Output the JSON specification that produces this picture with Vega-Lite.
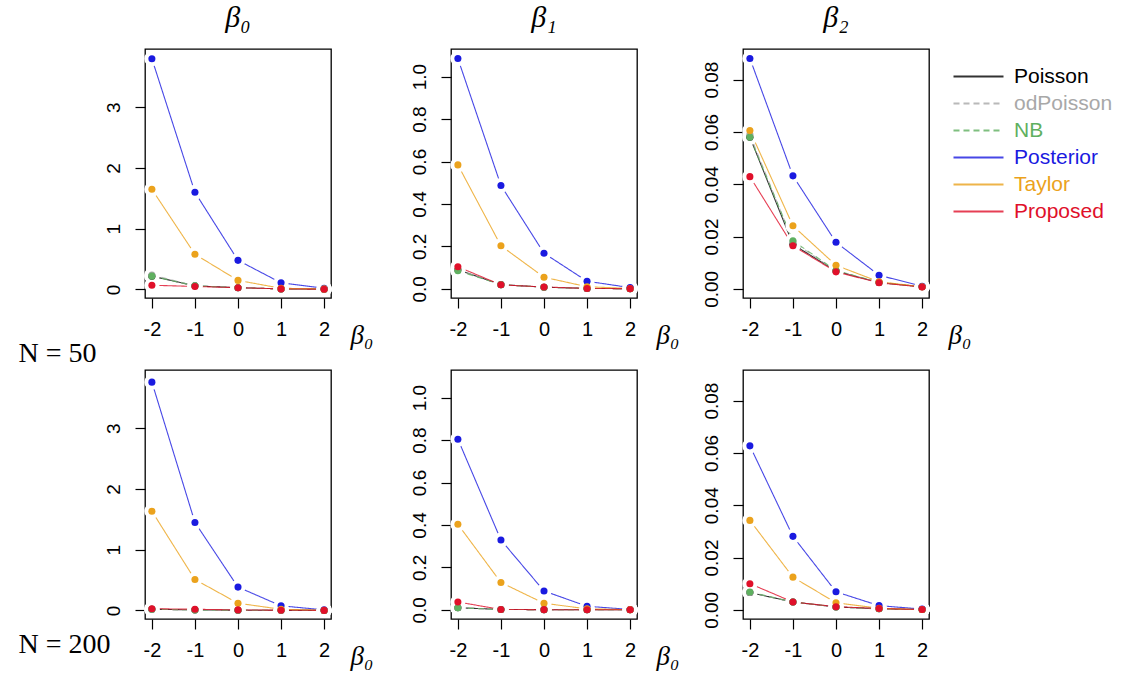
{
"$schema": "https://vega.github.io/schema/vega-lite/v6.json",
"background": "white",
"padding": {"left": 17, "top": 2, "right": 5, "bottom": 5},
"config": {
  "font": "Liberation Sans",
  "view": {"stroke": "black", "strokeWidth": 1.3},
  "axis": {"grid": false, "domain": false, "tickColor": "black", "tickSize": 10, "tickWidth": 1.2, "labelColor": "black", "labelFont": "Liberation Sans", "labelFontSize": 19},
  "axisX": {"labelFontSize": 20, "labelPadding": 11, "labelExpr": "'' + datum.value", "titleFont": "Liberation Serif", "titleFontStyle": "italic", "titleFontWeight": "normal", "titleFontSize": 27, "titleX": 205, "titleY": 37, "titleAlign": "left", "titleBaseline": "middle", "titleAngle": 0},
  "axisY": {"labelAngle": -90, "labelAlign": "center", "labelBaseline": "bottom", "labelPadding": 12, "titleFont": "Liberation Serif", "titleFontWeight": "normal", "titleFontSize": 28, "titleAngle": 0, "titleAlign": "left", "titleBaseline": "middle", "titleX": -127, "titleColor": "black"},
  "title": {"font": "Liberation Serif", "fontWeight": "normal", "fontStyle": "italic", "fontSize": 30, "color": "black", "frame": "group", "anchor": "middle", "offset": 16}
},
"datasets": {
"d": [
{"coef":"b0","n":50,"method":"Poisson","x":-2,"y":0.22},{"coef":"b0","n":50,"method":"Poisson","x":-1,"y":0.06},{"coef":"b0","n":50,"method":"Poisson","x":0,"y":0.03},{"coef":"b0","n":50,"method":"Poisson","x":1,"y":0.01},{"coef":"b0","n":50,"method":"Poisson","x":2,"y":0.005},
{"coef":"b0","n":50,"method":"odPoisson","x":-2,"y":0.24},{"coef":"b0","n":50,"method":"odPoisson","x":-1,"y":0.06},{"coef":"b0","n":50,"method":"odPoisson","x":0,"y":0.03},{"coef":"b0","n":50,"method":"odPoisson","x":1,"y":0.01},{"coef":"b0","n":50,"method":"odPoisson","x":2,"y":0.005},
{"coef":"b0","n":50,"method":"NB","x":-2,"y":0.22},{"coef":"b0","n":50,"method":"NB","x":-1,"y":0.06},{"coef":"b0","n":50,"method":"NB","x":0,"y":0.03},{"coef":"b0","n":50,"method":"NB","x":1,"y":0.01},{"coef":"b0","n":50,"method":"NB","x":2,"y":0.005},
{"coef":"b0","n":50,"method":"Posterior","x":-2,"y":3.80},{"coef":"b0","n":50,"method":"Posterior","x":-1,"y":1.60},{"coef":"b0","n":50,"method":"Posterior","x":0,"y":0.48},{"coef":"b0","n":50,"method":"Posterior","x":1,"y":0.11},{"coef":"b0","n":50,"method":"Posterior","x":2,"y":0.02},
{"coef":"b0","n":50,"method":"Taylor","x":-2,"y":1.65},{"coef":"b0","n":50,"method":"Taylor","x":-1,"y":0.58},{"coef":"b0","n":50,"method":"Taylor","x":0,"y":0.15},{"coef":"b0","n":50,"method":"Taylor","x":1,"y":0.02},{"coef":"b0","n":50,"method":"Taylor","x":2,"y":0.01},
{"coef":"b0","n":50,"method":"Proposed","x":-2,"y":0.07},{"coef":"b0","n":50,"method":"Proposed","x":-1,"y":0.05},{"coef":"b0","n":50,"method":"Proposed","x":0,"y":0.03},{"coef":"b0","n":50,"method":"Proposed","x":1,"y":0.01},{"coef":"b0","n":50,"method":"Proposed","x":2,"y":0.005},

{"coef":"b1","n":50,"method":"Poisson","x":-2,"y":0.09},{"coef":"b1","n":50,"method":"Poisson","x":-1,"y":0.02},{"coef":"b1","n":50,"method":"Poisson","x":0,"y":0.008},{"coef":"b1","n":50,"method":"Poisson","x":1,"y":0.002},{"coef":"b1","n":50,"method":"Poisson","x":2,"y":0.001},
{"coef":"b1","n":50,"method":"odPoisson","x":-2,"y":0.09},{"coef":"b1","n":50,"method":"odPoisson","x":-1,"y":0.02},{"coef":"b1","n":50,"method":"odPoisson","x":0,"y":0.008},{"coef":"b1","n":50,"method":"odPoisson","x":1,"y":0.002},{"coef":"b1","n":50,"method":"odPoisson","x":2,"y":0.001},
{"coef":"b1","n":50,"method":"NB","x":-2,"y":0.085},{"coef":"b1","n":50,"method":"NB","x":-1,"y":0.02},{"coef":"b1","n":50,"method":"NB","x":0,"y":0.008},{"coef":"b1","n":50,"method":"NB","x":1,"y":0.002},{"coef":"b1","n":50,"method":"NB","x":2,"y":0.001},
{"coef":"b1","n":50,"method":"Posterior","x":-2,"y":1.085},{"coef":"b1","n":50,"method":"Posterior","x":-1,"y":0.487},{"coef":"b1","n":50,"method":"Posterior","x":0,"y":0.168},{"coef":"b1","n":50,"method":"Posterior","x":1,"y":0.036},{"coef":"b1","n":50,"method":"Posterior","x":2,"y":0.006},
{"coef":"b1","n":50,"method":"Taylor","x":-2,"y":0.584},{"coef":"b1","n":50,"method":"Taylor","x":-1,"y":0.203},{"coef":"b1","n":50,"method":"Taylor","x":0,"y":0.055},{"coef":"b1","n":50,"method":"Taylor","x":1,"y":0.01},{"coef":"b1","n":50,"method":"Taylor","x":2,"y":0.002},
{"coef":"b1","n":50,"method":"Proposed","x":-2,"y":0.104},{"coef":"b1","n":50,"method":"Proposed","x":-1,"y":0.019},{"coef":"b1","n":50,"method":"Proposed","x":0,"y":0.009},{"coef":"b1","n":50,"method":"Proposed","x":1,"y":0.002},{"coef":"b1","n":50,"method":"Proposed","x":2,"y":0.001},

{"coef":"b2","n":50,"method":"Poisson","x":-2,"y":0.058},{"coef":"b2","n":50,"method":"Poisson","x":-1,"y":0.017},{"coef":"b2","n":50,"method":"Poisson","x":0,"y":0.0068},{"coef":"b2","n":50,"method":"Poisson","x":1,"y":0.0024},{"coef":"b2","n":50,"method":"Poisson","x":2,"y":0.0008},
{"coef":"b2","n":50,"method":"odPoisson","x":-2,"y":0.059},{"coef":"b2","n":50,"method":"odPoisson","x":-1,"y":0.018},{"coef":"b2","n":50,"method":"odPoisson","x":0,"y":0.0068},{"coef":"b2","n":50,"method":"odPoisson","x":1,"y":0.0024},{"coef":"b2","n":50,"method":"odPoisson","x":2,"y":0.0008},
{"coef":"b2","n":50,"method":"NB","x":-2,"y":0.058},{"coef":"b2","n":50,"method":"NB","x":-1,"y":0.0184},{"coef":"b2","n":50,"method":"NB","x":0,"y":0.007},{"coef":"b2","n":50,"method":"NB","x":1,"y":0.0025},{"coef":"b2","n":50,"method":"NB","x":2,"y":0.0008},
{"coef":"b2","n":50,"method":"Posterior","x":-2,"y":0.0881},{"coef":"b2","n":50,"method":"Posterior","x":-1,"y":0.0432},{"coef":"b2","n":50,"method":"Posterior","x":0,"y":0.0178},{"coef":"b2","n":50,"method":"Posterior","x":1,"y":0.0052},{"coef":"b2","n":50,"method":"Posterior","x":2,"y":0.0010},
{"coef":"b2","n":50,"method":"Taylor","x":-2,"y":0.0605},{"coef":"b2","n":50,"method":"Taylor","x":-1,"y":0.0241},{"coef":"b2","n":50,"method":"Taylor","x":0,"y":0.0090},{"coef":"b2","n":50,"method":"Taylor","x":1,"y":0.0027},{"coef":"b2","n":50,"method":"Taylor","x":2,"y":0.0008},
{"coef":"b2","n":50,"method":"Proposed","x":-2,"y":0.0429},{"coef":"b2","n":50,"method":"Proposed","x":-1,"y":0.0165},{"coef":"b2","n":50,"method":"Proposed","x":0,"y":0.0065},{"coef":"b2","n":50,"method":"Proposed","x":1,"y":0.0023},{"coef":"b2","n":50,"method":"Proposed","x":2,"y":0.0007},

{"coef":"b0","n":200,"method":"Poisson","x":-2,"y":0.02},{"coef":"b0","n":200,"method":"Poisson","x":-1,"y":0.01},{"coef":"b0","n":200,"method":"Poisson","x":0,"y":0.005},{"coef":"b0","n":200,"method":"Poisson","x":1,"y":0.003},{"coef":"b0","n":200,"method":"Poisson","x":2,"y":0.001},
{"coef":"b0","n":200,"method":"odPoisson","x":-2,"y":0.02},{"coef":"b0","n":200,"method":"odPoisson","x":-1,"y":0.01},{"coef":"b0","n":200,"method":"odPoisson","x":0,"y":0.005},{"coef":"b0","n":200,"method":"odPoisson","x":1,"y":0.003},{"coef":"b0","n":200,"method":"odPoisson","x":2,"y":0.001},
{"coef":"b0","n":200,"method":"NB","x":-2,"y":0.02},{"coef":"b0","n":200,"method":"NB","x":-1,"y":0.01},{"coef":"b0","n":200,"method":"NB","x":0,"y":0.005},{"coef":"b0","n":200,"method":"NB","x":1,"y":0.003},{"coef":"b0","n":200,"method":"NB","x":2,"y":0.001},
{"coef":"b0","n":200,"method":"Posterior","x":-2,"y":3.76},{"coef":"b0","n":200,"method":"Posterior","x":-1,"y":1.45},{"coef":"b0","n":200,"method":"Posterior","x":0,"y":0.385},{"coef":"b0","n":200,"method":"Posterior","x":1,"y":0.077},{"coef":"b0","n":200,"method":"Posterior","x":2,"y":0.01},
{"coef":"b0","n":200,"method":"Taylor","x":-2,"y":1.635},{"coef":"b0","n":200,"method":"Taylor","x":-1,"y":0.51},{"coef":"b0","n":200,"method":"Taylor","x":0,"y":0.12},{"coef":"b0","n":200,"method":"Taylor","x":1,"y":0.02},{"coef":"b0","n":200,"method":"Taylor","x":2,"y":0.005},
{"coef":"b0","n":200,"method":"Proposed","x":-2,"y":0.03},{"coef":"b0","n":200,"method":"Proposed","x":-1,"y":0.02},{"coef":"b0","n":200,"method":"Proposed","x":0,"y":0.01},{"coef":"b0","n":200,"method":"Proposed","x":1,"y":0.005},{"coef":"b0","n":200,"method":"Proposed","x":2,"y":0.002},

{"coef":"b1","n":200,"method":"Poisson","x":-2,"y":0.01},{"coef":"b1","n":200,"method":"Poisson","x":-1,"y":0.002},{"coef":"b1","n":200,"method":"Poisson","x":0,"y":0.001},{"coef":"b1","n":200,"method":"Poisson","x":1,"y":0.0005},{"coef":"b1","n":200,"method":"Poisson","x":2,"y":0.0002},
{"coef":"b1","n":200,"method":"odPoisson","x":-2,"y":0.01},{"coef":"b1","n":200,"method":"odPoisson","x":-1,"y":0.002},{"coef":"b1","n":200,"method":"odPoisson","x":0,"y":0.001},{"coef":"b1","n":200,"method":"odPoisson","x":1,"y":0.0005},{"coef":"b1","n":200,"method":"odPoisson","x":2,"y":0.0002},
{"coef":"b1","n":200,"method":"NB","x":-2,"y":0.01},{"coef":"b1","n":200,"method":"NB","x":-1,"y":0.002},{"coef":"b1","n":200,"method":"NB","x":0,"y":0.001},{"coef":"b1","n":200,"method":"NB","x":1,"y":0.0005},{"coef":"b1","n":200,"method":"NB","x":2,"y":0.0002},
{"coef":"b1","n":200,"method":"Posterior","x":-2,"y":0.804},{"coef":"b1","n":200,"method":"Posterior","x":-1,"y":0.329},{"coef":"b1","n":200,"method":"Posterior","x":0,"y":0.089},{"coef":"b1","n":200,"method":"Posterior","x":1,"y":0.017},{"coef":"b1","n":200,"method":"Posterior","x":2,"y":0.002},
{"coef":"b1","n":200,"method":"Taylor","x":-2,"y":0.403},{"coef":"b1","n":200,"method":"Taylor","x":-1,"y":0.129},{"coef":"b1","n":200,"method":"Taylor","x":0,"y":0.031},{"coef":"b1","n":200,"method":"Taylor","x":1,"y":0.005},{"coef":"b1","n":200,"method":"Taylor","x":2,"y":0.001},
{"coef":"b1","n":200,"method":"Proposed","x":-2,"y":0.037},{"coef":"b1","n":200,"method":"Proposed","x":-1,"y":0.002},{"coef":"b1","n":200,"method":"Proposed","x":0,"y":0.001},{"coef":"b1","n":200,"method":"Proposed","x":1,"y":0.0005},{"coef":"b1","n":200,"method":"Proposed","x":2,"y":0.0002},

{"coef":"b2","n":200,"method":"Poisson","x":-2,"y":0.0066},{"coef":"b2","n":200,"method":"Poisson","x":-1,"y":0.003},{"coef":"b2","n":200,"method":"Poisson","x":0,"y":0.0011},{"coef":"b2","n":200,"method":"Poisson","x":1,"y":0.0004},{"coef":"b2","n":200,"method":"Poisson","x":2,"y":0.0001},
{"coef":"b2","n":200,"method":"odPoisson","x":-2,"y":0.0066},{"coef":"b2","n":200,"method":"odPoisson","x":-1,"y":0.003},{"coef":"b2","n":200,"method":"odPoisson","x":0,"y":0.0011},{"coef":"b2","n":200,"method":"odPoisson","x":1,"y":0.0004},{"coef":"b2","n":200,"method":"odPoisson","x":2,"y":0.0001},
{"coef":"b2","n":200,"method":"NB","x":-2,"y":0.0068},{"coef":"b2","n":200,"method":"NB","x":-1,"y":0.003},{"coef":"b2","n":200,"method":"NB","x":0,"y":0.0011},{"coef":"b2","n":200,"method":"NB","x":1,"y":0.0004},{"coef":"b2","n":200,"method":"NB","x":2,"y":0.0001},
{"coef":"b2","n":200,"method":"Posterior","x":-2,"y":0.0627},{"coef":"b2","n":200,"method":"Posterior","x":-1,"y":0.0281},{"coef":"b2","n":200,"method":"Posterior","x":0,"y":0.0069},{"coef":"b2","n":200,"method":"Posterior","x":1,"y":0.0016},{"coef":"b2","n":200,"method":"Posterior","x":2,"y":0.0003},
{"coef":"b2","n":200,"method":"Taylor","x":-2,"y":0.0342},{"coef":"b2","n":200,"method":"Taylor","x":-1,"y":0.0125},{"coef":"b2","n":200,"method":"Taylor","x":0,"y":0.0027},{"coef":"b2","n":200,"method":"Taylor","x":1,"y":0.0006},{"coef":"b2","n":200,"method":"Taylor","x":2,"y":0.0001},
{"coef":"b2","n":200,"method":"Proposed","x":-2,"y":0.010},{"coef":"b2","n":200,"method":"Proposed","x":-1,"y":0.003},{"coef":"b2","n":200,"method":"Proposed","x":0,"y":0.0012},{"coef":"b2","n":200,"method":"Proposed","x":1,"y":0.0005},{"coef":"b2","n":200,"method":"Proposed","x":2,"y":0.0001}
]
},
"data": {"name": "d"},
"bounds": "flush",
"spacing": 306,
"hconcat": [
 {
  "bounds": "flush",
  "spacing": 72,
  "vconcat": [
   {
    "width": 186, "height": 249,
    "title": {"text": "β₀"},
    "transform": [{"filter": "datum.coef == 'b0' && datum.n == 50"}],
    "encoding": {
      "x": {"field": "x", "type": "quantitative", "scale": {"domain": [-2.16, 2.16], "nice": false, "zero": false}, "axis": {"values": [-2,-1,0,1,2], "title": "β₀"}},
      "y": {"field": "y", "type": "quantitative", "scale": {"domain": [-0.14, 3.96], "nice": false, "zero": false}, "axis": {"values": [0,1,2,3], "format": "d", "title": "N = 50", "titleY": 304}},
      "color": {"field": "method", "type": "nominal", "scale": {"domain": ["Poisson","odPoisson","NB","Posterior","Taylor","Proposed"], "range": ["#000000","#a8a8a8","#5fb060","#1a1ae0","#eba21c","#e0102a"]},
        "legend": {"orient": "none", "legendX": 820, "legendY": 14, "title": null, "symbolType": "M-2,0H2", "symbolSize": 625, "symbolStrokeWidth": 2, "labelFontSize": 21, "labelFont": "Liberation Sans", "labelOffset": 22, "rowPadding": 3,
          "labelColor": {"expr": "scale('color', datum.value)"}}},
      "strokeDash": {"field": "method", "type": "nominal", "scale": {"domain": ["Poisson","odPoisson","NB","Posterior","Taylor","Proposed"], "range": [[1,0],[6,4],[6,4],[1,0],[1,0],[1,0]]}, "legend": {"orient": "none", "legendX": 820, "legendY": 14, "title": null, "symbolType": "M-2,0H2", "symbolSize": 625, "symbolStrokeWidth": 2, "labelFontSize": 21, "labelFont": "Liberation Sans", "labelOffset": 22, "rowPadding": 3,
          "labelColor": {"expr": "scale('color', datum.value)"}}}
    },
    "layer": [
      {"mark": {"type": "line", "strokeWidth": 1.1, "opacity": 0.8}},
      {"mark": {"type": "point", "filled": true, "size": 230, "opacity": 1}, "encoding": {"color": {"value": "white"}, "strokeDash": {"value": [1,0]}}},
      {"mark": {"type": "point", "filled": true, "size": 50, "opacity": 1}, "encoding": {"strokeDash": {"value": [1,0]}}}
    ]
   },
   {
    "width": 186, "height": 249,
    "transform": [{"filter": "datum.coef == 'b0' && datum.n == 200"}],
    "encoding": {
      "x": {"field": "x", "type": "quantitative", "scale": {"domain": [-2.16, 2.16], "nice": false, "zero": false}, "axis": {"values": [-2,-1,0,1,2], "title": "β₀"}},
      "y": {"field": "y", "type": "quantitative", "scale": {"domain": [-0.14, 3.96], "nice": false, "zero": false}, "axis": {"values": [0,1,2,3], "format": "d", "title": "N = 200", "titleY": 274}},
      "color": {"field": "method", "type": "nominal"},
      "strokeDash": {"field": "method", "type": "nominal"}
    },
    "layer": [
      {"mark": {"type": "line", "strokeWidth": 1.1, "opacity": 0.8}},
      {"mark": {"type": "point", "filled": true, "size": 230, "opacity": 1}, "encoding": {"color": {"value": "white"}, "strokeDash": {"value": [1,0]}}},
      {"mark": {"type": "point", "filled": true, "size": 50, "opacity": 1}, "encoding": {"strokeDash": {"value": [1,0]}}}
    ]
   }
  ]
 },
 {
  "bounds": "flush",
  "spacing": 292,
  "hconcat": [
   {
    "bounds": "flush",
    "spacing": 72,
    "vconcat": [
     {
      "width": 186, "height": 249,
      "title": {"text": "β₁"},
      "transform": [{"filter": "datum.coef == 'b1' && datum.n == 50"}],
      "encoding": {
        "x": {"field": "x", "type": "quantitative", "scale": {"domain": [-2.16, 2.16], "nice": false, "zero": false}, "axis": {"values": [-2,-1,0,1,2], "title": "β₀"}},
        "y": {"field": "y", "type": "quantitative", "scale": {"domain": [-0.043, 1.13], "nice": false, "zero": false}, "axis": {"values": [0,0.2,0.4,0.6,0.8,1.0], "format": ".1f", "title": null}},
        "color": {"field": "method", "type": "nominal"},
        "strokeDash": {"field": "method", "type": "nominal"}
      },
      "layer": [
        {"mark": {"type": "line", "strokeWidth": 1.1, "opacity": 0.8}},
        {"mark": {"type": "point", "filled": true, "size": 230, "opacity": 1}, "encoding": {"color": {"value": "white"}, "strokeDash": {"value": [1,0]}}},
        {"mark": {"type": "point", "filled": true, "size": 50, "opacity": 1}, "encoding": {"strokeDash": {"value": [1,0]}}}
      ]
     },
     {
      "width": 186, "height": 249,
      "transform": [{"filter": "datum.coef == 'b1' && datum.n == 200"}],
      "encoding": {
        "x": {"field": "x", "type": "quantitative", "scale": {"domain": [-2.16, 2.16], "nice": false, "zero": false}, "axis": {"values": [-2,-1,0,1,2], "title": "β₀"}},
        "y": {"field": "y", "type": "quantitative", "scale": {"domain": [-0.043, 1.13], "nice": false, "zero": false}, "axis": {"values": [0,0.2,0.4,0.6,0.8,1.0], "format": ".1f", "title": null}},
        "color": {"field": "method", "type": "nominal"},
        "strokeDash": {"field": "method", "type": "nominal"}
      },
      "layer": [
        {"mark": {"type": "line", "strokeWidth": 1.1, "opacity": 0.8}},
        {"mark": {"type": "point", "filled": true, "size": 230, "opacity": 1}, "encoding": {"color": {"value": "white"}, "strokeDash": {"value": [1,0]}}},
        {"mark": {"type": "point", "filled": true, "size": 50, "opacity": 1}, "encoding": {"strokeDash": {"value": [1,0]}}}
      ]
     }
    ]
   },
   {
    "bounds": "flush",
    "spacing": 72,
    "vconcat": [
     {
      "width": 186, "height": 249,
      "title": {"text": "β₂"},
      "transform": [{"filter": "datum.coef == 'b2' && datum.n == 50"}],
      "encoding": {
        "x": {"field": "x", "type": "quantitative", "scale": {"domain": [-2.16, 2.16], "nice": false, "zero": false}, "axis": {"values": [-2,-1,0,1,2], "title": "β₀"}},
        "y": {"field": "y", "type": "quantitative", "scale": {"domain": [-0.0035, 0.0917], "nice": false, "zero": false}, "axis": {"values": [0,0.02,0.04,0.06,0.08], "format": ".2f", "title": null}},
        "color": {"field": "method", "type": "nominal"},
        "strokeDash": {"field": "method", "type": "nominal"}
      },
      "layer": [
        {"mark": {"type": "line", "strokeWidth": 1.1, "opacity": 0.8}},
        {"mark": {"type": "point", "filled": true, "size": 230, "opacity": 1}, "encoding": {"color": {"value": "white"}, "strokeDash": {"value": [1,0]}}},
        {"mark": {"type": "point", "filled": true, "size": 50, "opacity": 1}, "encoding": {"strokeDash": {"value": [1,0]}}}
      ]
     },
     {
      "width": 186, "height": 249,
      "transform": [{"filter": "datum.coef == 'b2' && datum.n == 200"}],
      "encoding": {
        "x": {"field": "x", "type": "quantitative", "scale": {"domain": [-2.16, 2.16], "nice": false, "zero": false}, "axis": {"values": [-2,-1,0,1,2], "title": null}},
        "y": {"field": "y", "type": "quantitative", "scale": {"domain": [-0.0035, 0.0917], "nice": false, "zero": false}, "axis": {"values": [0,0.02,0.04,0.06,0.08], "format": ".2f", "title": null}},
        "color": {"field": "method", "type": "nominal"},
        "strokeDash": {"field": "method", "type": "nominal"}
      },
      "layer": [
        {"mark": {"type": "line", "strokeWidth": 1.1, "opacity": 0.8}},
        {"mark": {"type": "point", "filled": true, "size": 230, "opacity": 1}, "encoding": {"color": {"value": "white"}, "strokeDash": {"value": [1,0]}}},
        {"mark": {"type": "point", "filled": true, "size": 50, "opacity": 1}, "encoding": {"strokeDash": {"value": [1,0]}}}
      ]
     }
    ]
   }
  ]
 }
]
}
